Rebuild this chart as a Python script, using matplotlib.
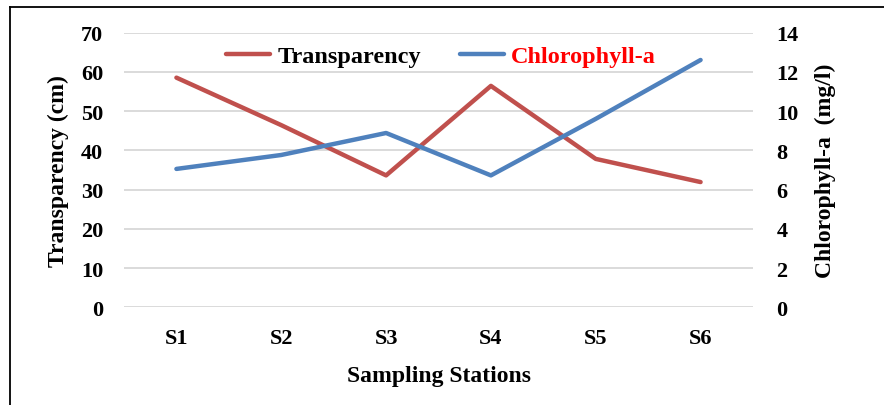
import matplotlib
matplotlib.use("Agg")
import matplotlib.pyplot as plt
from matplotlib.lines import Line2D

stations = ["S1", "S2", "S3", "S4", "S5", "S6"]
transparency = [58.5, 46.4, 33.6, 56.4, 37.8, 31.9]
chlorophyll = [7.05, 7.76, 8.88, 6.72, 9.6, 12.6]
left_ticks = [0, 10, 20, 30, 40, 50, 60, 70]
right_ticks = [0, 2, 4, 6, 8, 10, 12, 14]

plt.rcParams['font.family'] = ['Liberation Serif', 'DejaVu Serif']
plt.rcParams['font.weight'] = 'bold'

W, H = 884, 406
fig = plt.figure(figsize=(W / 100, H / 100), dpi=100)
ax = fig.add_axes([124 / W, 1 - 308.3 / H, 629 / W, 274.8 / H])
ax2 = ax.twinx()

red = '#C0504D'
blue = '#4F81BD'

x = list(range(len(stations)))
l1, = ax.plot(x, transparency, color=red, lw=3.2, solid_capstyle='round', label='Transparency', zorder=3)
l2, = ax2.plot(x, chlorophyll, color=blue, lw=3.2, solid_capstyle='round', label='Chlorophyll-a', zorder=3)

ax.set_xlim(-0.5, len(stations) - 0.5)
ax.set_ylim(0, 70)
ax2.set_ylim(0, 14)
ax.set_yticks(left_ticks)
ax2.set_yticks(right_ticks)
ax.set_xticks(x)
ax.set_xticklabels(stations)

ax.grid(axis='y', color='#d4d4d4', lw=1.2)
ax.set_axisbelow(True)
for a in (ax, ax2):
    for s in a.spines.values():
        s.set_visible(False)
    a.tick_params(length=0, labelsize=16)
ax.tick_params(axis='y', pad=15)
ax.tick_params(axis='x', pad=15)
ax2.tick_params(axis='y', pad=17)

ax.set_xlabel('Sampling Stations', fontsize=17, fontweight='bold')
ax.set_ylabel('Transparency (cm)', fontsize=17, fontweight='bold')
ax2.set_ylabel('Chlorophyll-a  (mg/l)', fontsize=17, fontweight='bold')
ax.xaxis.set_label_coords(0.5, (308.3 - 377) / 274.8)
ax.xaxis.label.set_va('center')
ax.yaxis.set_label_coords((58 - 124) / 629, 0.5)
ax.yaxis.label.set_va('center')
ax2.yaxis.set_label_coords((825 - 124) / 629, 0.5)
ax2.yaxis.label.set_va('center')

leg = ax.legend(handles=[l1, l2], loc='center', bbox_to_anchor=((441 - 124) / 629, (308.3 - 57) / 274.8),
                ncol=2, frameon=False, fontsize=17.5, handlelength=1.8, handletextpad=0.3,
                columnspacing=1.6, borderaxespad=0)
leg.get_texts()[1].set_color('#FF0000')

# border frame
fig.add_artist(Line2D([10 / W, 10 / W], [0, 1 - 8 / H], color='black', lw=1.3, transform=fig.transFigure))
fig.add_artist(Line2D([10 / W, 1], [1 - 8 / H, 1 - 8 / H], color='black', lw=1.3, transform=fig.transFigure))

fig.savefig('out.png', dpi=100)
